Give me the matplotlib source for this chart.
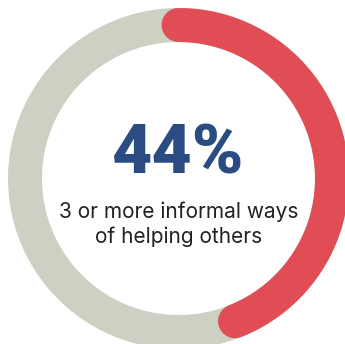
import numpy as np
import matplotlib
matplotlib.use("Agg")
import matplotlib.pyplot as plt

# data
share = 44
labels = ["3 or more informal ways", "of helping others"]
values = [share, 100 - share]
colors = ["#E14D55", "#CFD0C4"]

W, H, dpi = 345, 344, 100
fig = plt.figure(figsize=(W / dpi, H / dpi), dpi=dpi)
ax = fig.add_axes([0, 0, 1, 1])
ax.set_xlim(0, W)
ax.set_ylim(H, 0)
ax.axis("off")

cx, cy, r = 178.5, 178.5, 153.5
ring_w = 34 * 72 / dpi  # ring thickness in points

# grey background ring
t = np.linspace(0, 2 * np.pi, 400)
ax.plot(cx + r * np.cos(t), cy - r * np.sin(t), color=colors[1], lw=ring_w,
        solid_capstyle="butt")

# red arc, clockwise from 12 o'clock
start = np.pi / 2
end = start - 2 * np.pi * values[0] / 100
t = np.linspace(start, end, 300)
ax.plot(cx + r * np.cos(t), cy - r * np.sin(t), color=colors[0], lw=ring_w,
        solid_capstyle="round")

ax.text(cx, 173, f"{share}%", ha="center", va="baseline", fontsize=50,
        fontweight="black", color="#2B4C82", family="Roboto")
ax.text(cx, 218, labels[0], ha="center", va="baseline", fontsize=15,
        color="#222222", family="Inter")
ax.text(cx, 243, labels[1], ha="center", va="baseline", fontsize=15,
        color="#222222", family="Inter")

fig.savefig("out.png", dpi=dpi)
